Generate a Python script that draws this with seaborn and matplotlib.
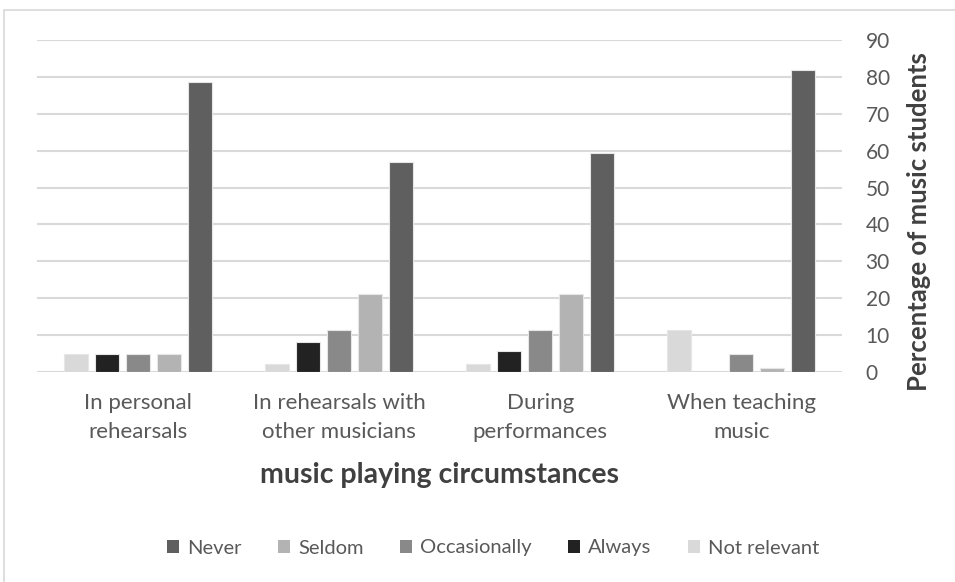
import matplotlib
matplotlib.use("Agg")
import matplotlib.pyplot as plt
from matplotlib.patches import Rectangle, Patch
import seaborn as sns
import pandas as pd

# Survey results: share of music students per response, by playing circumstance
categories = ["In personal\nrehearsals", "In rehearsals with\nother musicians",
              "During\nperformances", "When teaching\nmusic"]
responses = ["Not relevant", "Always", "Occasionally", "Seldom", "Never"]
not_relevant = [5.0, 2.3, 2.3, 11.3]
always = [5.0, 8.2, 5.7, 0.0]
occasionally = [5.0, 11.3, 11.3, 5.0]
seldom = [5.0, 21.1, 21.1, 1.2]
never = [78.7, 56.8, 59.3, 81.8]
y_ticks = [0, 10, 20, 30, 40, 50, 60, 70, 80, 90]

colors = {"Not relevant": "#d9d9d9", "Always": "#222222", "Occasionally": "#898989",
          "Seldom": "#b3b3b3", "Never": "#5f5f5f"}

series = dict(zip(responses, [not_relevant, always, occasionally, seldom, never]))
rows = []
for resp, vals in series.items():
    for cat, v in zip(categories, vals):
        rows.append({"circumstance": cat, "response": resp, "pct": v})
df = pd.DataFrame(rows)

sns.set_theme(style="white")
plt.rcParams["font.family"] = ["Lato", "DejaVu Sans"]
text_color = "#595959"

fig = plt.figure(figsize=(9.55, 5.82), dpi=100)
ax = fig.add_axes([37 / 955, 1 - 372 / 582, 805 / 955, 332 / 582])

sns.barplot(data=df, x="circumstance", y="pct", hue="response", order=categories,
            hue_order=responses, palette=colors, width=0.77, gap=0.23,
            edgecolor="#e6e6e6", linewidth=0.8, ax=ax, legend=False, zorder=3)

ax.set_ylim(0, 90)
ax.set_yticks(y_ticks)
ax.yaxis.tick_right()
ax.grid(axis="y", color="#d9d9d9", linewidth=1.5, zorder=0)
ax.set_axisbelow(True)
for s in ax.spines.values():
    s.set_visible(False)
ax.tick_params(axis="y", length=0, pad=17, labelsize=15, labelcolor=text_color)
ax.tick_params(axis="x", length=0, pad=15, labelsize=16, labelcolor=text_color)
plt.setp(ax.get_xticklabels(), linespacing=1.6)
ax.set_xlim(-0.5, 3.5)

ax.set_xlabel("music playing circumstances", fontsize=20.5, fontweight="bold", color="#404040")
ax.xaxis.set_label_coords(0.5, -0.27)
ax.set_ylabel("Percentage of music students", fontsize=18.5, fontweight="bold",
              color="#404040", rotation=90)
ax.yaxis.set_label_position("right")
ax.yaxis.set_label_coords(1.081, 0.452)

handles = [Patch(facecolor=colors[r], edgecolor="none") for r in reversed(responses)]
fig.legend(handles, list(reversed(responses)), loc="center", bbox_to_anchor=(493 / 955, 1 - 548 / 582),
           ncol=5, frameon=False, fontsize=14.5, labelcolor=text_color,
           handlelength=0.6, handleheight=0.6, handletextpad=0.4, columnspacing=1.8)

fig.patches.append(Rectangle((4 / 955, -0.1), 1.2, 1 - 10 / 582 + 0.1, transform=fig.transFigure,
                             fill=False, edgecolor="#d9d9d9", linewidth=1.2))

fig.savefig("out.png", dpi=100, facecolor="white")
